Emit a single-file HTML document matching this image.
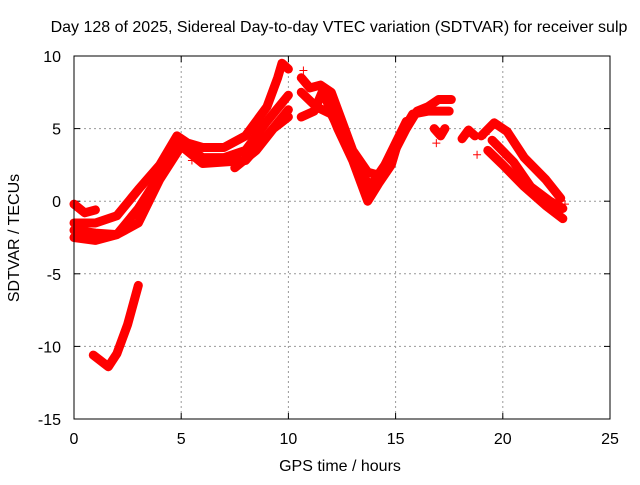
<!DOCTYPE html>
<html><head><meta charset="utf-8"><style>
body{margin:0;background:#fff;font-family:"Liberation Sans",sans-serif;}
svg text{font-family:"Liberation Sans",sans-serif;font-size:16px;fill:#000;}
</style></head><body>
<svg width="640" height="480">
<text x="339" y="32" text-anchor="middle">Day 128 of 2025, Sidereal Day-to-day VTEC variation (SDTVAR) for receiver sulp</text>
<text x="340" y="471" text-anchor="middle">GPS time / hours</text>
<text transform="translate(19,238) rotate(-90)" text-anchor="middle">SDTVAR / TECUs</text>
<g id="grid"></g>
<g id="ticks"></g>
<g id="series"></g>
<rect x="74" y="56" width="536" height="363" fill="none" stroke="#000" stroke-width="1"/>
</svg>
<script>
const xTicks=[0,5,10,15,20,25];
const yTicks=[-15,-10,-5,0,5,10];
const trackA=[[0,-1.5],[1,-1.5],[2,-1],[3,0.8],[4,2.5],[4.8,4.5],[5.3,4],[6,3.7],[7,3.7],[8,4.5],[9,6.5],[9.5,8.5],[9.7,9.5],[10,9.1]];
const trackB=[[0,-2.5],[1,-2.7],[2,-2.3],[3,-0.5],[4,1.8],[5,4],[6,3],[7,3],[8,3.5],[9,5.5],[10,7.3]];
const trackC=[[0,-2],[1,-2.2],[2,-2.3],[3,-1.5],[4,1.5],[5,3.8],[6,2.6],[7,2.7],[8,2.8],[9,4.5],[10,6.3]];
const trackD=[[7.5,2.3],[8.5,3.5],[9.3,5],[10,5.8]];
const trackE=[[0,-0.2],[0.5,-0.8],[1,-0.6]];
const trackF=[[0.9,-10.6],[1.6,-11.4],[2.0,-10.5],[2.5,-8.5],[3,-5.8]];
const trackG=[[10.6,8.5],[11,7.8],[11.5,8],[12,7.5],[12.5,5.5],[13,3.5],[13.7,2],[14.2,1.8],[14.8,3],[15.5,5],[16,6.2],[16.5,6.5],[17,7],[17.6,7]];
const trackH=[[10.6,5.8],[11.2,6.2],[11.6,7.6],[12.3,5],[13,2.8],[13.7,0],[14.2,1.2],[14.8,2.5],[15.2,4.5],[15.8,6],[16.5,6.2],[17.5,6.2]];
const trackI=[[10.6,7.5],[11.3,6.5],[12,6],[12.5,4.5],[13.2,2.5],[13.8,1],[14.5,2.5],[15,4],[15.5,5.5]];
const trackJ=[[19,4.5],[19.6,5.4],[20.2,4.8],[21,3],[22,1.5],[22.7,0.2]];
const trackK=[[19.3,3.5],[20,2.5],[21,1],[22,-0.3],[22.8,-1.2]];
const trackL=[[19.5,4.2],[20.5,2.7],[21.3,1],[22.2,0],[22.8,-0.5]];
const clusterM=[[16.8,5],[17.1,4.5],[17.3,5]];
const clusterN=[[18.1,4.3],[18.4,4.9],[18.7,4.5]];
const loose=[[5.5,2.8],[10.7,9],[16.9,4],[18.8,3.2],[19.2,4.6],[22.9,-0.2]];
const X=h=>74+h*536/25, Y=v=>56+(10-v)*363/25;
const NS="http://www.w3.org/2000/svg";
const grid=document.getElementById('grid'),ticks=document.getElementById('ticks'),ser=document.getElementById('series');
function mk(t,a,p){const e=document.createElementNS(NS,t);for(const k in a)e.setAttribute(k,a[k]);p.appendChild(e);return e;}
xTicks.forEach(t=>{
 if(t>0&&t<25){const g=mk('line',{x1:X(t),x2:X(t),y1:56,y2:419,stroke:'#999','stroke-dasharray':'2,3'},grid);
 
 }
 mk('line',{x1:X(t),x2:X(t),y1:419,y2:413,stroke:'#000'},ticks);
 mk('line',{x1:X(t),x2:X(t),y1:56,y2:62,stroke:'#000'},ticks);
 const l=mk('text',{x:X(t),y:444,'text-anchor':'middle'},ticks);l.textContent=t;
 
 
});
yTicks.forEach(t=>{
 if(t>-15&&t<10){const g=mk('line',{x1:74,x2:610,y1:Y(t),y2:Y(t),stroke:'#999','stroke-dasharray':'2,3'},grid);
 
 }
 mk('line',{x1:74,x2:80,y1:Y(t),y2:Y(t),stroke:'#000'},ticks);
 mk('line',{x1:604,x2:610,y1:Y(t),y2:Y(t),stroke:'#000'},ticks);
 const l=mk('text',{x:61,y:Y(t)+6,'text-anchor':'end'},ticks);l.textContent=t;
 
 
});
const tracks=[trackA,trackB,trackC,trackD,trackE,trackF,trackG,trackH,trackI,trackJ,trackK,trackL,clusterM,clusterN];
tracks.forEach((tr,i)=>{
 const p=mk('polyline',{points:tr.map(d=>X(d[0])+','+Y(d[1])).join(' '),fill:'none',stroke:'#f00','stroke-width':9,'stroke-linejoin':'round','stroke-linecap':'round'},ser);
 
 
});
loose.forEach(d=>{
 const x=X(d[0]),y=Y(d[1]);
 const p=mk('path',{d:`M${x-4},${y}H${x+4}M${x},${y-4}V${y+4}`,stroke:'#f00','stroke-width':1},ser);
 
 
});
</script>
</body></html>
